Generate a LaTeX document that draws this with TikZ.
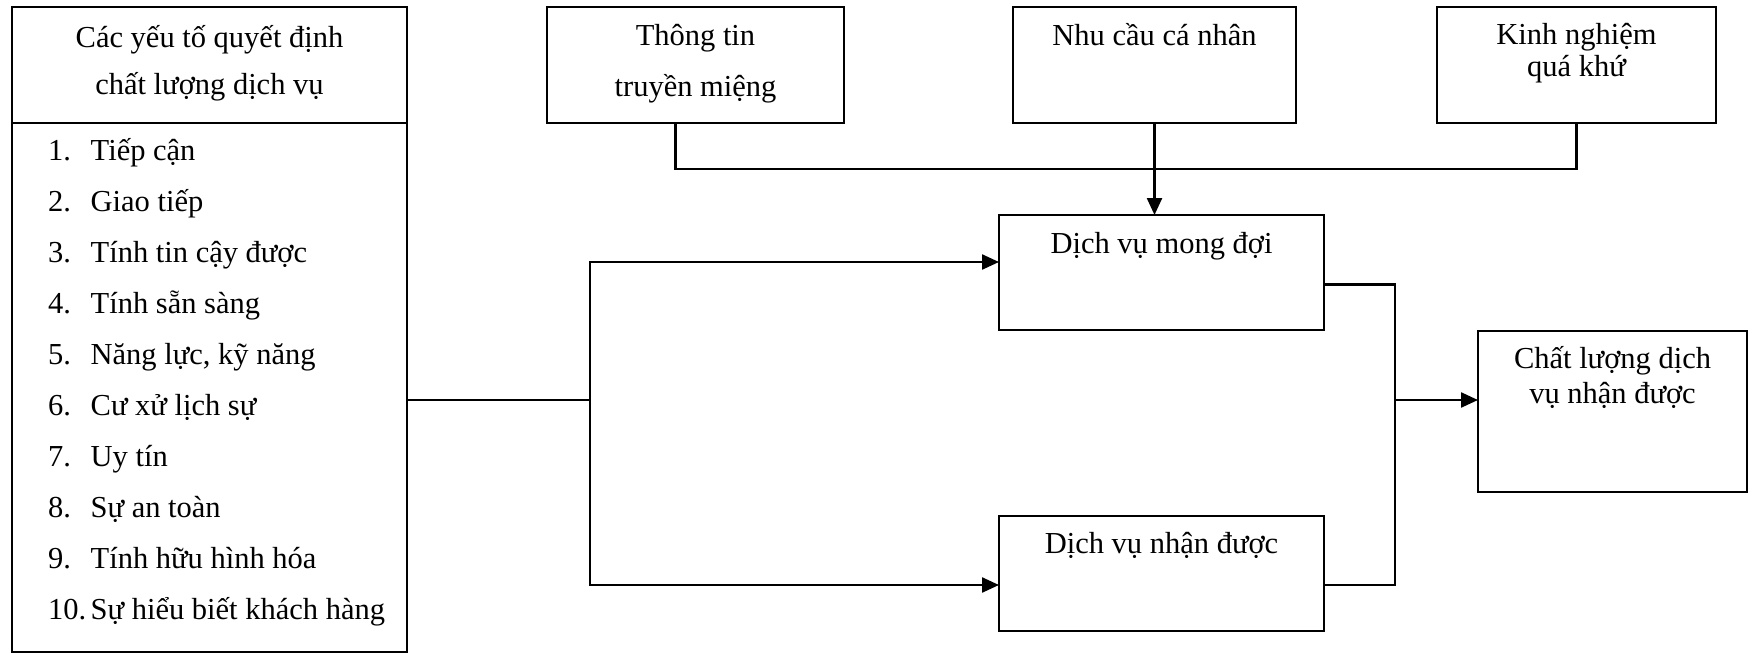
\documentclass[tikz,border=0pt]{standalone}
\usepackage{fontspec}
\setmainfont{Liberation Serif}
\usetikzlibrary{arrows.meta,positioning}
\tikzset{
	box/.style={draw, outer sep=0pt, inner sep=0pt},
	txt/.style={inner sep=0pt, align=center, anchor=base},
}
\newcommand\itm[2]{\makebox[21.25pt][l]{#1}#2}
\begin{document}
\begin{tikzpicture}[x=0.5pt, y=-0.5pt, line width=1.2pt, >={Triangle[length=8.5pt,width=7.5pt]}, font=\fontsize{15.25}{23.5}\selectfont]
	\useasboundingbox (0,0) rectangle (1758,653);
	% cot trai
	\node[box, minimum width=197.5pt, minimum height=58pt] (head) at (209.5,65) {};
	\node[box, minimum width=197.5pt, minimum height=264.5pt, below=0pt of head] (list) {};
	\node[txt] (headtxt) at ([yshift=-43.5pt]head.north) {Các yếu tố quyết định\\chất lượng dịch vụ};
	\node[txt, align=left, anchor=base west, font=\fontsize{15.25}{25.45}\selectfont] (items) at (47,619) {\itm{1.}{Tiếp cận}\\\itm{2.}{Giao tiếp}\\\itm{3.}{Tính tin cậy được}\\\itm{4.}{Tính sẵn sàng}\\\itm{5.}{Năng lực, kỹ năng}\\\itm{6.}{Cư xử lịch sự}\\\itm{7.}{Uy tín}\\\itm{8.}{Sự an toàn}\\\itm{9.}{Tính hữu hình hóa}\\\itm{10.}{Sự hiểu biết khách hàng}};
	% hang tren
	\node[box, minimum width=148.5pt, minimum height=58pt] (info) at (695.5,65) {};
	\node[txt, font=\fontsize{15.25}{25.5}\selectfont] (infotxt) at ([yshift=-45pt]info.north) {Thông tin\\truyền miệng};
	\node[box, minimum width=141.5pt, minimum height=58pt] (need) at (1154.5,65) {};
	\node[txt] (needtxt) at ([yshift=-19.5pt]need.north) {Nhu cầu cá nhân};
	\node[box, minimum width=139.5pt, minimum height=58pt] (past) at (1576.5,65) {};
	\node[txt, font=\fontsize{15.25}{16}\selectfont] (pasttxt) at ([yshift=-34.5pt]past.north) {Kinh nghiệm\\quá khứ};
	% giua va phai
	\node[box, minimum width=162.5pt, minimum height=57.5pt] (mong) at (1161.5,272.5) {};
	\node[txt] (mongtxt) at ([yshift=-19pt]mong.north) {Dịch vụ mong đợi};
	\node[box, minimum width=162.5pt, minimum height=57.5pt] (nhan) at (1161.5,573.5) {};
	\node[txt] (nhantxt) at ([yshift=-18.5pt]nhan.north) {Dịch vụ nhận được};
	\node[box, minimum width=134.5pt, minimum height=80.5pt] (cl) at (1612.5,411.5) {};
	\node[txt, font=\fontsize{15.25}{17.5}\selectfont] (cltxt) at ([yshift=-36pt]cl.north) {Chất lượng dịch\\vụ nhận được};
	% duong noi
	\coordinate (bus) at (1155,169);
	\coordinate (split) at (590,400);
	\coordinate (merge) at (1395,400);
	\draw ([xshift=-10pt]info.south) |- (bus) -| (past.south);
	\draw[->] (need.south) -- (need.south |- mong.north);
	\draw (list.east |- split) -- (split);
	\draw[->] (split) |- ([yshift=5.25pt]mong.west);
	\draw[->] (split) |- ([yshift=-5.75pt]nhan.west);
	\draw ([yshift=-6pt]mong.east) -| (merge) |- ([yshift=-5.75pt]nhan.east);
	\draw[->] (merge) -- (merge -| cl.west);
\end{tikzpicture}
\end{document}
